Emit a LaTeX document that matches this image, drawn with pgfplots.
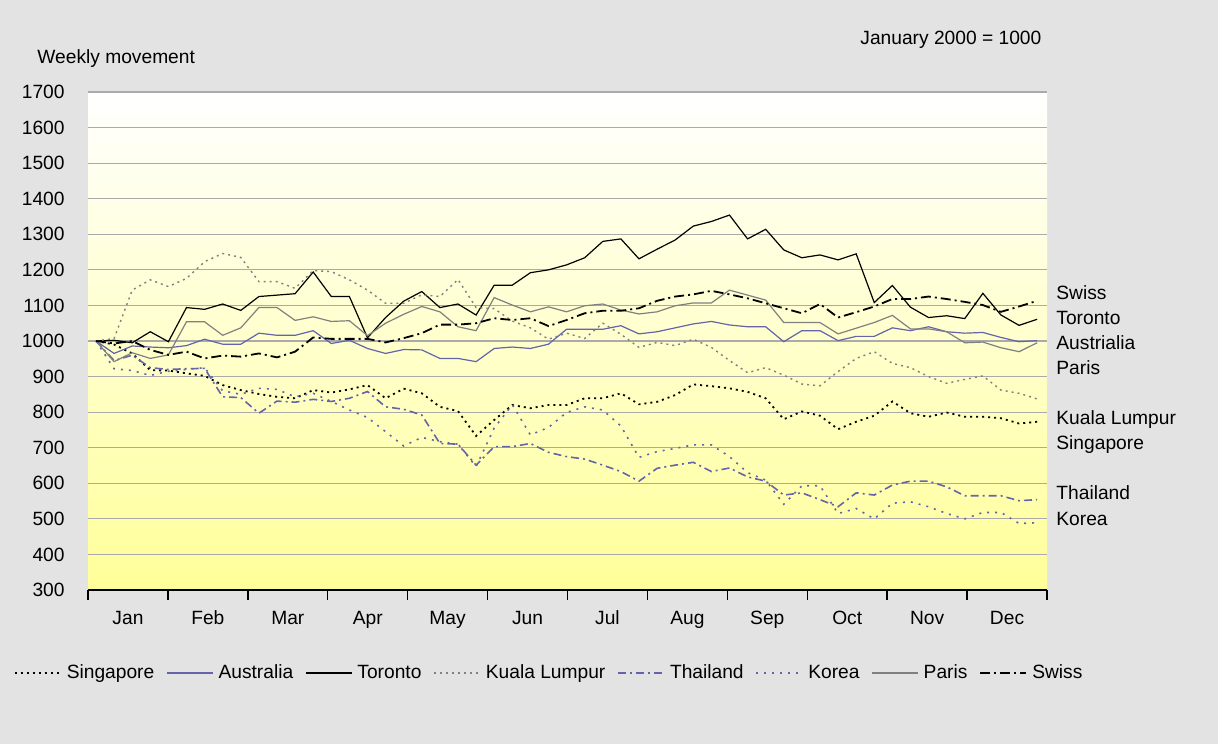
\documentclass[border=0pt]{standalone}
\usepackage{fontspec}
\setmainfont{Liberation Sans}
\usepackage{pgfplots}
\usepackage{pgfplotstable}
\pgfplotsset{compat=1.18}
\definecolor{bg}{RGB}{227,227,227}
\definecolor{ser}{RGB}{100,100,170}
\definecolor{gr}{RGB}{128,128,128}
\definecolor{gridc}{RGB}{170,170,170}
\definecolor{yel}{RGB}{255,255,153}

\pgfplotstableread{
i  sg   au   to   kl   th   ko   pa   sw
0  1000 1000 1000 1000 1000 1000 1000 1000
1  990  965  1002 1007 945  922  942  993
2  965  986  995  1143 960  917  967  1000
3  918  983  1026 1172 925  903  951  975
4  917  981  998  1153 920  915  961  961
5  909  987  1094 1176 922  920  1054 970
6  902  1005 1089 1223 923  925  1054 951
7  876  991  1104 1246 843  860  1016 959
8  862  991  1086 1235 841  850  1037 956
9  851  1022 1125 1167 797  867  1094 965
10 843  1016 1129 1167 831  864  1094 954
11 839  1016 1133 1148 828  843  1058 970
12 862  1029 1194 1198 836  853  1068 1010
13 855  993  1125 1195 830  830  1055 1006
14 864  1002 1125 1172 839  806  1057 1006
15 876  979  1009 1143 858  785  1015 1006
16 839  965  1066 1106 815  745  1050 996
17 866  976  1112 1106 808  705  1075 1008
18 853  975  1139 1130 792  729  1097 1022
19 815  951  1094 1125 712  717  1082 1046
20 803  951  1104 1173 710  710  1040 1046
21 733  942  1073 1094 651  647  1029 1050
22 778  979  1157 1091 703  755  1122 1064
23 820  983  1157 1056 703  821  1101 1059
24 811  979  1192 1037 712  736  1082 1064
25 820  991  1200 1005 687  757  1096 1042
26 820  1033 1214 1022 675  799  1082 1059
27 839  1033 1234 1007 668  815  1099 1078
28 839  1033 1280 1050 651  806  1104 1085
29 853  1043 1287 1019 633  761  1087 1085
30 822  1020 1231 982  606  673  1076 1092
31 829  1026 1258 996  642  689  1082 1113
32 848  1037 1284 987  651  698  1099 1125
33 878  1048 1323 1005 659  708  1107 1131
34 873  1055 1336 982  633  708  1107 1141
35 867  1045 1354 945  643  675  1143 1131
36 857  1040 1287 911  618  630  1129 1120
37 839  1040 1314 925  606  609  1115 1106
38 780  998  1256 904  567  541  1052 1092
39 802  1029 1234 879  573  593  1052 1078
40 790  1029 1242 874  554  593  1052 1104
41 752  1001 1228 914  534  515  1020 1066
42 773  1013 1245 951  573  529  1036 1081
43 790  1013 1108 970  567  500  1052 1097
44 830  1037 1156 937  595  544  1072 1118
45 797  1029 1095 925  606  548  1034 1118
46 787  1040 1066 900  606  534  1034 1125
47 799  1026 1071 881  590  515  1026 1118
48 787  1022 1063 892  565  500  995  1110
49 787  1024 1134 902  565  518  997  1101
50 783  1010 1073 862  565  518  981  1082
51 768  998  1044 853  551  487  970  1097
52 773  1001 1061 837  554  489  995  1113
}\data

\begin{document}
\begin{tikzpicture}[font=\fontsize{9.6}{11.5}\selectfont]
\fill[bg] (0,0) rectangle (609pt,372pt);
\useasboundingbox (0,0) rectangle (609pt,372pt);
\begin{axis}[
  at={(44pt,77pt)}, anchor=south west,
  width=479.5pt, height=249pt, scale only axis,
  xmin=-0.442, xmax=52.544,
  ymin=300, ymax=1700,
  ytick={300,400,...,1700},
  scaled y ticks=false,
  /pgf/number format/1000 sep={},
  /pgf/number format/assume math mode=true,
  xtick={-0.442,3.974,8.389,12.805,17.220,21.636,26.051,30.467,34.882,39.298,43.713,48.129,52.544},
  xticklabels={Jan,Feb,Mar,Apr,May,Jun,Jul,Aug,Sep,Oct,Nov,Dec},
  x tick label as interval,
  axis background/.style={top color=white, bottom color=yel},
  ymajorgrids, xmajorgrids=false,
  grid style={gridc, line width=0.6pt},
  axis x line*=bottom, axis y line*=left,
  y axis line style={draw=none},
  x axis line style={line width=1.2pt, black},
  tick align=outside, major tick length=5pt,
  ytick style={draw=none},
  xtick style={line width=0.7pt, black},
  yticklabel style={inner sep=0pt, xshift=-6.5pt},
  xticklabel style={yshift=-2pt},
  legend columns=8,
  legend cell align=left,
  legend style={at={(-0.07716,-0.1667)}, anchor=west, draw=none, fill=none,
    inner sep=0pt, outer sep=0pt,
    nodes={inner sep=2.5pt},
    /tikz/every even column/.append style={column sep=3.5pt}},
  legend image code/.code={\draw[#1] (0pt,0pt) -- (23pt,0pt);},
]
\addplot[black, line width=0.9pt, dash pattern=on 1pt off 2pt] table[x=i,y=sg]{\data};
\addlegendentry{Singapore}
\addplot[ser, line width=0.6pt] table[x=i,y=au]{\data};
\addlegendentry{Australia}
\addplot[black, line width=0.6pt] table[x=i,y=to]{\data};
\addlegendentry{Toronto}
\addplot[gr, line width=0.7pt, dash pattern=on 1pt off 2pt] table[x=i,y=kl]{\data};
\addlegendentry{Kuala Lumpur}
\addplot[ser, line width=0.8pt, dash pattern=on 4pt off 2pt on 1pt off 2pt] table[x=i,y=th]{\data};
\addlegendentry{Thailand}
\addplot[ser, line width=0.8pt, dash pattern=on 1pt off 3pt] table[x=i,y=ko]{\data};
\addlegendentry{Korea}
\addplot[gr, line width=0.6pt] table[x=i,y=pa]{\data};
\addlegendentry{Paris}
\addplot[black, line width=0.9pt, dash pattern=on 5pt off 2pt on 1pt off 2pt] table[x=i,y=sw]{\data};
\addlegendentry{Swiss}
\end{axis}
\node[anchor=base west, inner sep=0pt] at (18.5pt,340.25pt) {Weekly movement};
\node[anchor=base west, inner sep=0pt] at (430pt,349.5pt) {January 2000 = 1000};
\node[anchor=base west, inner sep=0pt] at (528pt,222pt) {Swiss};
\node[anchor=base west, inner sep=0pt] at (528pt,209.5pt) {Toronto};
\node[anchor=base west, inner sep=0pt] at (528pt,197pt) {Austrialia};
\node[anchor=base west, inner sep=0pt] at (528pt,184.5pt) {Paris};
\node[anchor=base west, inner sep=0pt] at (528pt,159.5pt) {Kuala Lumpur};
\node[anchor=base west, inner sep=0pt] at (528pt,147pt) {Singapore};
\node[anchor=base west, inner sep=0pt] at (528pt,122pt) {Thailand};
\node[anchor=base west, inner sep=0pt] at (528pt,109.5pt) {Korea};
\end{tikzpicture}
\end{document}
